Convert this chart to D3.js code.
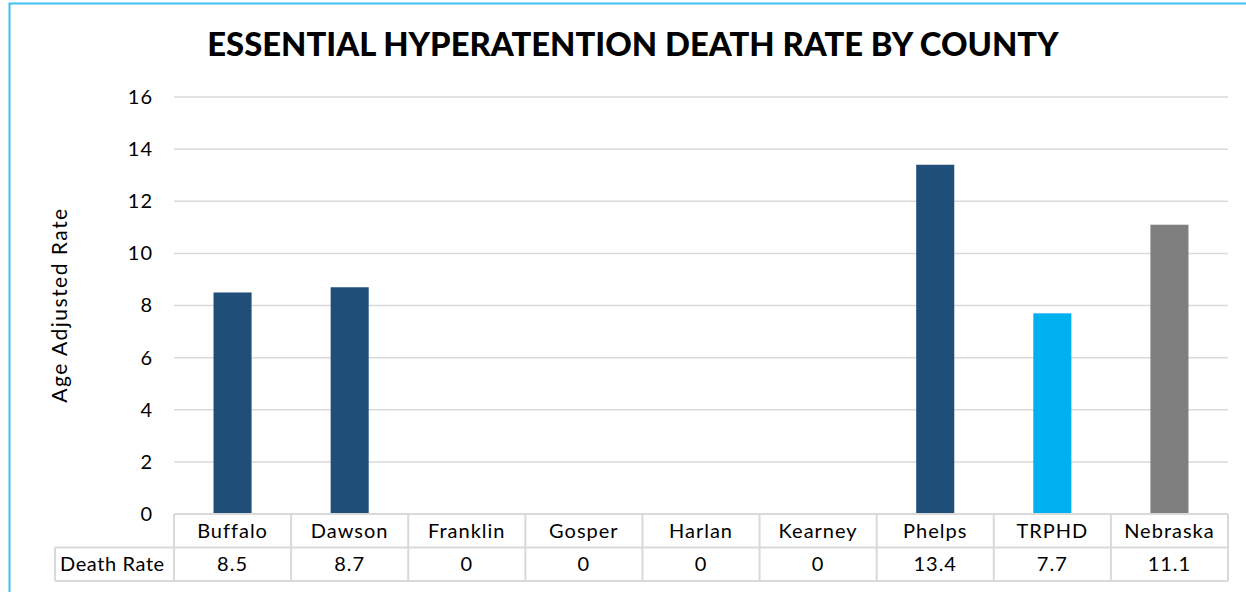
<!DOCTYPE html>
<html>
<head>
<meta charset="utf-8">
<script src="https://cdn.jsdelivr.net/npm/d3@7"></script>
<style>
  body { margin: 0; background: #fff; }
  text { font-family: Lato, "Open Sans", sans-serif; fill: #000; }
</style>
</head>
<body>
<div id="chart"></div>
<script>
// Data
const counties = ["Buffalo", "Dawson", "Franklin", "Gosper", "Harlan", "Kearney", "Phelps", "TRPHD", "Nebraska"];
const deathRate = [8.5, 8.7, 0, 0, 0, 0, 13.4, 7.7, 11.1];
const rateLabels = ["8.5", "8.7", "0", "0", "0", "0", "13.4", "7.7", "11.1"];
const yTicks = [0, 2, 4, 6, 8, 10, 12, 14, 16];
const barColors = ["#1F4E79", "#1F4E79", "#1F4E79", "#1F4E79", "#1F4E79", "#1F4E79", "#1F4E79", "#00B0F0", "#7F7F7F"];

const W = 1246, H = 592;
const margin = { top: 97, right: 18, bottom: 78, left: 174 };
const width = W - margin.left - margin.right,
    height = H - margin.top - margin.bottom;

const svg = d3.select("#chart").append("svg")
    .attr("width", W)
    .attr("height", H);

// outer frame (light blue)
svg.append("path")
    .attr("d", `M9.5,${H} V3.5 H${W}`)
    .attr("fill", "none")
    .attr("stroke", "#3FC0F0")
    .attr("stroke-width", 2);

// Title
const title = svg.append("text")
    .attr("x", 633)
    .attr("y", 56)
    .attr("text-anchor", "middle")
    .style("font-weight", "900")
    .style("font-size", "30px")
    .text("ESSENTIAL HYPERATENTION DEATH RATE BY COUNTY");
// fit the title to the reference width
const tw = title.node().getComputedTextLength();
title.style("font-size", (30 * 851 / tw).toFixed(1) + "px");

const g = svg.append("g")
    .attr("transform", `translate(${margin.left},${margin.top})`);

const x = d3.scaleBand()
    .domain(counties)
    .range([0, width])
    .paddingInner(0.675)
    .paddingOuter(0.3375);

const y = d3.scaleLinear()
    .domain([0, 16])
    .range([height, 0]);

// gridlines
g.append("g")
    .selectAll("line")
    .data(yTicks)
    .enter()
    .append("line")
    .attr("x1", 0)
    .attr("x2", width)
    .attr("y1", d => y(d))
    .attr("y2", d => y(d))
    .attr("stroke", "#D9D9D9")
    .attr("stroke-width", 1.5);

// y axis
g.append("g")
    .call(d3.axisLeft(y).tickValues(yTicks).tickSize(0).tickPadding(21))
    .call(a => a.select(".domain").remove())
    .selectAll("text")
    .style("font-family", "Lato, sans-serif")
    .style("font-size", "20px")
    .style("letter-spacing", "1px")
    .attr("fill", "#000");

// axis title
svg.append("text")
    .attr("transform", "translate(67,305) rotate(-90)")
    .attr("text-anchor", "middle")
    .style("font-size", "21px")
    .style("letter-spacing", "1.5px")
    .text("Age Adjusted Rate");

// bars
g.selectAll(".bar")
    .data(counties)
    .enter()
    .append("rect")
    .attr("class", "bar")
    .attr("x", d => x(d))
    .attr("width", x.bandwidth())
    .attr("y", (d, i) => y(deathRate[i]))
    .attr("height", (d, i) => height - y(deathRate[i]))
    .attr("fill", (d, i) => barColors[i]);

// data table under the chart
const step = x.step();
const rowH = 33.5;
const tbl = g.append("g").attr("transform", `translate(0,${height})`);
const gridC = "#D9D9D9";

// horizontal lines
tbl.append("line").attr("x1", 0).attr("x2", width).attr("y1", 0).attr("y2", 0)
    .attr("stroke", gridC).attr("stroke-width", 2);
tbl.append("line").attr("x1", -119).attr("x2", width).attr("y1", rowH).attr("y2", rowH)
    .attr("stroke", gridC).attr("stroke-width", 2);
tbl.append("line").attr("x1", -119).attr("x2", width).attr("y1", rowH * 2).attr("y2", rowH * 2)
    .attr("stroke", gridC).attr("stroke-width", 2);

// vertical lines
tbl.selectAll(".vline")
    .data(d3.range(counties.length + 1))
    .enter()
    .append("line")
    .attr("x1", d => d * step)
    .attr("x2", d => d * step)
    .attr("y1", 0)
    .attr("y2", rowH * 2)
    .attr("stroke", gridC)
    .attr("stroke-width", 2);
tbl.append("line").attr("x1", -119).attr("x2", -119).attr("y1", rowH).attr("y2", rowH * 2)
    .attr("stroke", gridC).attr("stroke-width", 2);

// category names
tbl.selectAll(".cat")
    .data(counties)
    .enter()
    .append("text")
    .attr("x", d => x(d) + x.bandwidth() / 2)
    .attr("y", rowH / 2)
    .attr("dy", "0.35em")
    .attr("text-anchor", "middle")
    .style("font-size", "20px")
    .style("letter-spacing", "1px")
    .text(d => d);

// values row
tbl.append("text")
    .attr("x", -114)
    .attr("y", rowH * 1.5)
    .attr("dy", "0.35em")
    .style("font-size", "20px")
    .style("letter-spacing", "0.6px")
    .text("Death Rate");

tbl.selectAll(".val")
    .data(counties)
    .enter()
    .append("text")
    .attr("x", d => x(d) + x.bandwidth() / 2)
    .attr("y", rowH * 1.5)
    .attr("dy", "0.35em")
    .attr("text-anchor", "middle")
    .style("font-size", "20px")
    .style("letter-spacing", "1px")
    .text((d, i) => rateLabels[i]);
</script>
</body>
</html>
